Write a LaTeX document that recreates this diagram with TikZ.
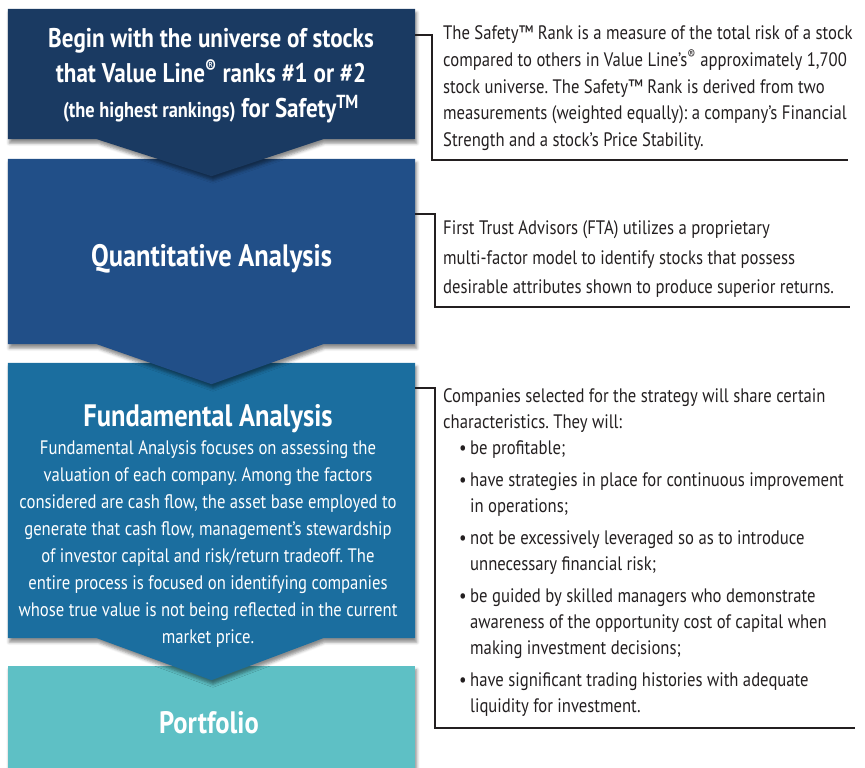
\documentclass[tikz,border=0pt]{standalone}
\usepackage{fontspec}
\setmainfont{PT Sans}[FakeStretch=0.855]
\usetikzlibrary{backgrounds,shadows.blur}
\frenchspacing

\definecolor{univblue}{HTML}{1A3A62}
\definecolor{quantblue}{HTML}{214F88}
\definecolor{fundblue}{HTML}{1B6E9F}
\definecolor{portteal}{HTML}{5EC0C5}
\definecolor{inkgray}{HTML}{231F20}

\newcommand{\notesize}{\fontsize{19.5bp}{26.7bp}\selectfont}
\newcommand{\titlesize}{\fontsize{27bp}{35bp}\selectfont\bfseries}
\newcommand{\headsize}{\fontsize{31bp}{35bp}\selectfont\bfseries}
\newcommand{\bul}{\hspace*{16bp}\makebox[11bp][l]{\textbullet}}
\newcommand{\cnt}{\hspace*{27bp}}
\newcommand{\stagefill}[3]{%
  \fill[#2,boxshadow] (#1.north west) -- (#1.north east) -- (#1.south east)
    -- ([xshift=-92bp]#1.south east) -- ([yshift=-#3]#1.south)
    -- ([xshift=89bp]#1.south west) -- (#1.south west) -- cycle;}

\begin{document}
\begin{tikzpicture}[
  stage/.style={inner sep=0pt,minimum width=407bp},
  title/.style={text=white,font=\titlesize,inner sep=0pt,align=center},
  note/.style={text=inkgray,font=\notesize,inner sep=0pt,align=left},
  bracket/.style={draw=inkgray,line width=1.6bp},
  boxshadow/.style={blur shadow={shadow xshift=1.5bp,shadow yshift=-4bp,
    shadow blur radius=3bp,shadow opacity=45}},
]
\useasboundingbox (0bp,0bp) rectangle (865bp,768bp);
%%
\node (universe) at (211.5bp,694bp) [stage,minimum height=130bp] {};
\node (quant) at (211.5bp,516.5bp) [stage,minimum height=185bp] {};
\node (fund) at (211.5bp,267.5bp) [stage,minimum height=275bp] {};
\node (portf) at (211.5bp,46bp) [stage,minimum height=112bp] {};
%
\node (univ_title) at (211bp,739.7bp) [title,anchor=north] {Begin with the universe of stocks\\
  that Value Line\textsuperscript{®} ranks \#1 or \#2\\
  {\fontsize{21.5bp}{35bp}\selectfont(the highest rankings)} for Safety\textsuperscript{TM}};
\node (quant_title) at (211.5bp,501bp) [title,font=\headsize,anchor=base] {Quantitative Analysis};
\node (fund_title) at (208bp,341bp) [title,font=\headsize,anchor=base] {Fundamental Analysis};
\node (fund_text) at (208bp,327.2bp) [note,text=white,align=center,anchor=north,font=\fontsize{19.5bp}{26.9bp}\selectfont] {Fundamental Analysis focuses on assessing the\\
  valuation of each company. Among the factors\\
  considered are cash flow, the asset base employed to\\
  generate that cash flow, management’s stewardship\\
  of investor capital and risk/return tradeoff. The\\
  entire process is focused on identifying companies\\
  whose true value is not being reflected in the current\\
  market price.};
\node (portf_title) at (209bp,35bp) [title,font=\headsize,anchor=base] {Portfolio};
%
\node (safety_note) at (443bp,742.2bp) [note,anchor=north west] {The Safety™ Rank is a measure of the total risk of a stock\\
  compared to others in Value Line’s\textsuperscript{®} approximately 1,700\\
  stock universe. The Safety™ Rank is derived from two\\
  measurements (weighted equally): a company’s Financial\\
  Strength and a stock’s Price Stability.};
\node (quant_note) at (443bp,547.2bp) [note,anchor=north west,font=\fontsize{19.5bp}{29.5bp}\selectfont] {First Trust Advisors (FTA) utilizes a proprietary\\
  multi-factor model to identify stocks that possess\\
  desirable attributes shown to produce superior returns.};
\node (fund_note) at (443bp,379.2bp) [note,anchor=north west,font=\fontsize{19.5bp}{26bp}\selectfont] {Companies selected for the strategy will share certain\\
  characteristics. They will:\\
  \bul be profitable;\\[6bp]
  \bul have strategies in place for continuous improvement\\
  \cnt in operations;\\[6bp]
  \bul not be excessively leveraged so as to introduce\\
  \cnt unnecessary financial risk;\\[6bp]
  \bul be guided by skilled managers who demonstrate\\
  \cnt awareness of the opportunity cost of capital when\\
  \cnt making investment decisions;\\[6bp]
  \bul have significant trading histories with adequate\\
  \cnt liquidity for investment.};
%
\coordinate (safety_end) at (848bp,608bp);
\coordinate (quant_end) at (850bp,461bp);
\coordinate (fund_end) at (855bp,40bp);
\draw [bracket] ([yshift=-26bp]universe.north east) -- ++(17bp,0bp) |- (safety_end);
\draw [bracket] ([yshift=-55bp]quant.north east) -- ++(20bp,0bp) |- (quant_end);
\draw [bracket] ([yshift=-25bp]fund.north east) -- ++(20bp,0bp) |- (fund_end);
%
\begin{pgfonlayer}{background}
  \fill [portteal,boxshadow] (portf.north west) rectangle (portf.south east);
  \stagefill{fund}{fundblue}{42bp}
  \stagefill{quant}{quantblue}{40bp}
  \stagefill{universe}{univblue}{37bp}
\end{pgfonlayer}
%
\end{tikzpicture}
\end{document}
